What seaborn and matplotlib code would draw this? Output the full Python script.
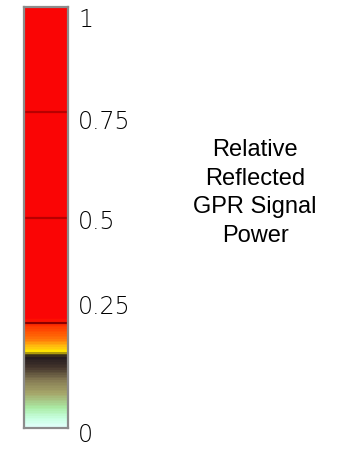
import numpy as np
import pandas as pd
import matplotlib
matplotlib.use("Agg")
import matplotlib.pyplot as plt
from matplotlib.colors import LinearSegmentedColormap
import seaborn as sns

# ---- data ----
stop_values = [0.0, 0.02, 0.045, 0.08, 0.11, 0.14, 0.165, 0.172, 0.18, 0.19, 0.21, 0.24, 0.25, 0.26, 1.0]
stop_colors = [(225, 255, 250), (200, 255, 225), (170, 235, 165), (165, 165, 105),
               (135, 125, 85), (70, 55, 45), (38, 28, 32), (70, 60, 25), (255, 228, 0),
               (255, 195, 15), (255, 115, 8), (255, 55, 0), (255, 25, 0), (250, 5, 5), (250, 5, 5)]
tick_values = [0.0, 0.25, 0.5, 0.75, 1.0]
tick_labels = ["0", "0.25", "0.5", "0.75", "1"]
line_values = [0.25, 0.5, 0.75]
line_colors = ["#8a0000", "#b80000", "#b80000"]
title_text = "Relative\nReflected\nGPR Signal\nPower"

# label vertical positions (layout, in bar-axes fraction)
label_pos = [-0.017, 0.287, 0.489, 0.727, 0.969]

sns.set_style("white")
plt.rcParams['font.family'] = ['DejaVu Sans']

W, H = 343, 455
fig = plt.figure(figsize=(W / 100, H / 100), dpi=100)
fig.patch.set_facecolor("white")

cmap = LinearSegmentedColormap.from_list(
    "gpr", [(v, tuple(c / 255 for c in col)) for v, col in zip(stop_values, stop_colors)])

N = 421
grad = pd.DataFrame({"v": np.linspace(1, 0, N)})

ax = fig.add_axes([24 / W, (H - 428) / H, 44 / W, 421 / H])
sns.heatmap(grad, cmap=cmap, vmin=0, vmax=1, cbar=False,
            xticklabels=False, yticklabels=False, ax=ax)
ax.set_xlabel("")
ax.set_ylabel("")
for v, c in zip(line_values, line_colors):
    ax.axhline((1 - v) * N, color=c, lw=1.6)
for s in ax.spines.values():
    s.set_visible(True)
    s.set_color("#8c8c8c")
    s.set_linewidth(1.6)

for lab, p in zip(tick_labels, label_pos):
    ax.text((78 - 24) / 44, p, lab,
            transform=ax.transAxes, ha="left", va="center",
            fontsize=17, fontweight="light", color="black")

fig.text(255 / W, 1 - 193 / H, title_text, ha="center", va="center",
         fontsize=17, family="Liberation Sans", linespacing=1.4, color="black")

fig.savefig("out.png", dpi=100, facecolor="white")
